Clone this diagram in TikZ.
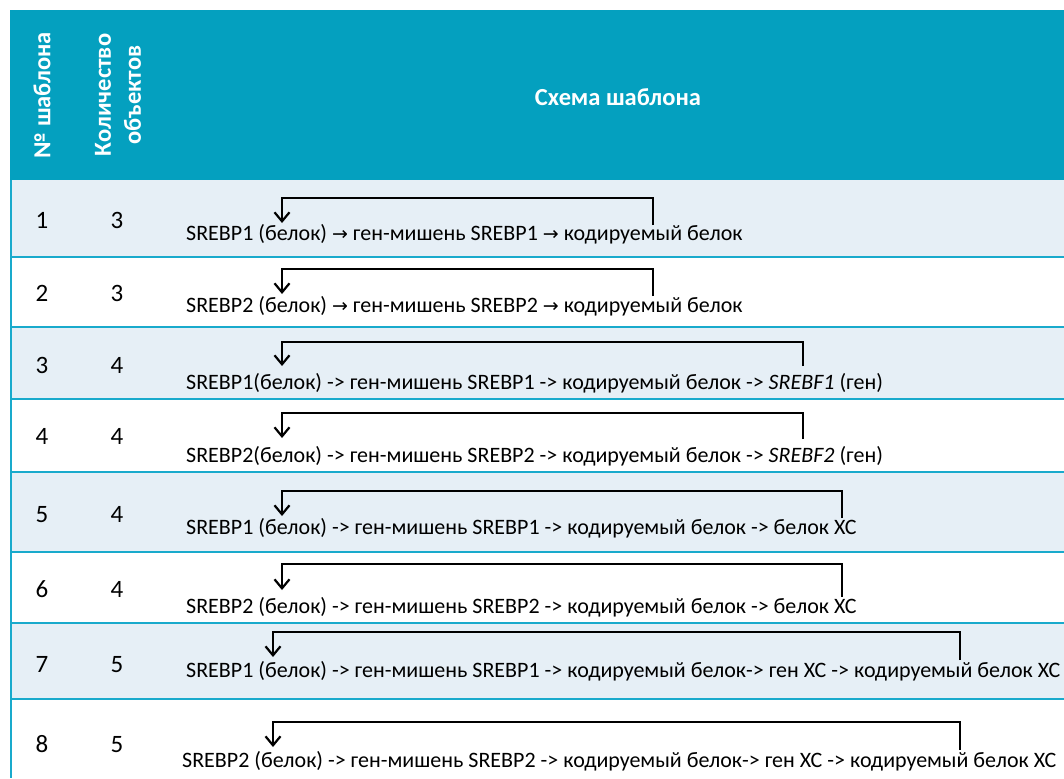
\documentclass[tikz,border=0pt]{standalone}
\usepackage{fontspec}
\setmainfont{Carlito}
\newfontfamily\arrfont{DejaVu Sans}
\usetikzlibrary{arrows.meta}
\definecolor{headteal}{RGB}{4,160,191}
\definecolor{rowblue}{RGB}{230,239,246}
\definecolor{rowline}{RGB}{25,170,204}
\newcommand{\rarr}{{\arrfont\fontsize{19}{22}\selectfont →}}
\begin{document}
\begin{tikzpicture}[x=1pt,y=-1pt,
  headtxt/.style={text=white,font=\fontsize{24.5}{30}\selectfont\bfseries,inner sep=0pt,align=center},
  numtxt/.style={font=\fontsize{25}{28}\selectfont,inner sep=0pt,anchor=base},
  bodytxt/.style={font=\fontsize{22}{25}\selectfont,inner sep=0pt,anchor=base west},
  sep/.style={draw=rowline,line width=1.8pt},
  fb/.style={draw=black,line width=2.2pt,-{Straight Barb[length=9pt,width=15pt,line width=2.2pt]}}]
\useasboundingbox (0,0) rectangle (1064,778);
\fill[white] (0,0) rectangle (1064,778);
% header
\fill[headteal] (10,10) rectangle (1064,180);
% row fills
\fill[rowblue] (11,180) rectangle (1064,257);
\fill[rowblue] (11,327) rectangle (1064,399);
\fill[rowblue] (11,472) rectangle (1064,552);
\fill[rowblue] (11,623) rectangle (1064,699);
% separators
\foreach \yy in {257,327,399,472,552,623,699}{\draw[sep] (10,\yy) -- (1064,\yy);}
\draw[sep] (11,180) -- (11,778);
% header texts
\node[headtxt,rotate=90] (h1) at (42,95) {№ шаблона};
\node[headtxt,rotate=90] (h2) at (118,95) {Количество\\объектов};
\node[headtxt] (h3) at (618,97) {Схема шаблона};
% numbers
\node[numtxt] (n11) at (42,228) {1};  \node[numtxt] (n12) at (117,228) {3};
\node[numtxt] (n21) at (42,301) {2};  \node[numtxt] (n22) at (117,301) {3};
\node[numtxt] (n31) at (42,373) {3};  \node[numtxt] (n32) at (117,373) {4};
\node[numtxt] (n41) at (42,444) {4};  \node[numtxt] (n42) at (117,444) {4};
\node[numtxt] (n51) at (42,522) {5};  \node[numtxt] (n52) at (117,522) {4};
\node[numtxt] (n61) at (42,597) {6};  \node[numtxt] (n62) at (117,597) {4};
\node[numtxt] (n71) at (42,672) {7};  \node[numtxt] (n72) at (117,672) {5};
\node[numtxt] (n81) at (42,752) {8};  \node[numtxt] (n82) at (117,752) {5};
% schemes
\node[bodytxt] (s1) at (186,240) {SREBP1 (белок) \rarr{} ген-мишень SREBP1 \rarr{} кодируемый белок};
\node[bodytxt] (s2) at (186,312) {SREBP2 (белок) \rarr{} ген-мишень SREBP2 \rarr{} кодируемый белок};
\node[bodytxt] (s3) at (186,389) {SREBP1(белок) -> ген-мишень SREBP1 -> кодируемый белок -> \textit{SREBF1} (ген)};
\node[bodytxt] (s4) at (186,462) {SREBP2(белок) -> ген-мишень SREBP2 -> кодируемый белок -> \textit{SREBF2} (ген)};
\node[bodytxt] (s5) at (186,534) {SREBP1 (белок) -> ген-мишень SREBP1 -> кодируемый белок -> белок ХС};
\node[bodytxt] (s6) at (186,613) {SREBP2 (белок) -> ген-мишень SREBP2 -> кодируемый белок -> белок ХС};
\node[bodytxt] (s7) at (186,677) {SREBP1 (белок) -> ген-мишень SREBP1 -> кодируемый белок-> ген ХС -> кодируемый белок ХС};
\node[bodytxt] (s8) at (182,767) {SREBP2 (белок) -> ген-мишень SREBP2 -> кодируемый белок-> ген ХС -> кодируемый белок ХС};
% feedback connectors
\coordinate (a1) at (653,225); \coordinate (c1) at (282,198); \coordinate (e1) at (282,223);
\coordinate (a2) at (653,296); \coordinate (c2) at (282,269); \coordinate (e2) at (282,294);
\coordinate (a3) at (803,366); \coordinate (c3) at (282,342); \coordinate (e3) at (282,366);
\coordinate (a4) at (803,439); \coordinate (c4) at (282,413); \coordinate (e4) at (282,438);
\coordinate (a5) at (842,518); \coordinate (c5) at (282,491); \coordinate (e5) at (282,516);
\coordinate (a6) at (842,597); \coordinate (c6) at (282,564); \coordinate (e6) at (282,590);
\coordinate (a7) at (960,660); \coordinate (c7) at (273,632); \coordinate (e7) at (273,657);
\coordinate (a8) at (960,750); \coordinate (c8) at (273,722); \coordinate (e8) at (273,747);
\foreach \i in {1,...,8}{\draw[fb] (a\i) |- (c\i) -- (e\i);}
\end{tikzpicture}
\end{document}
